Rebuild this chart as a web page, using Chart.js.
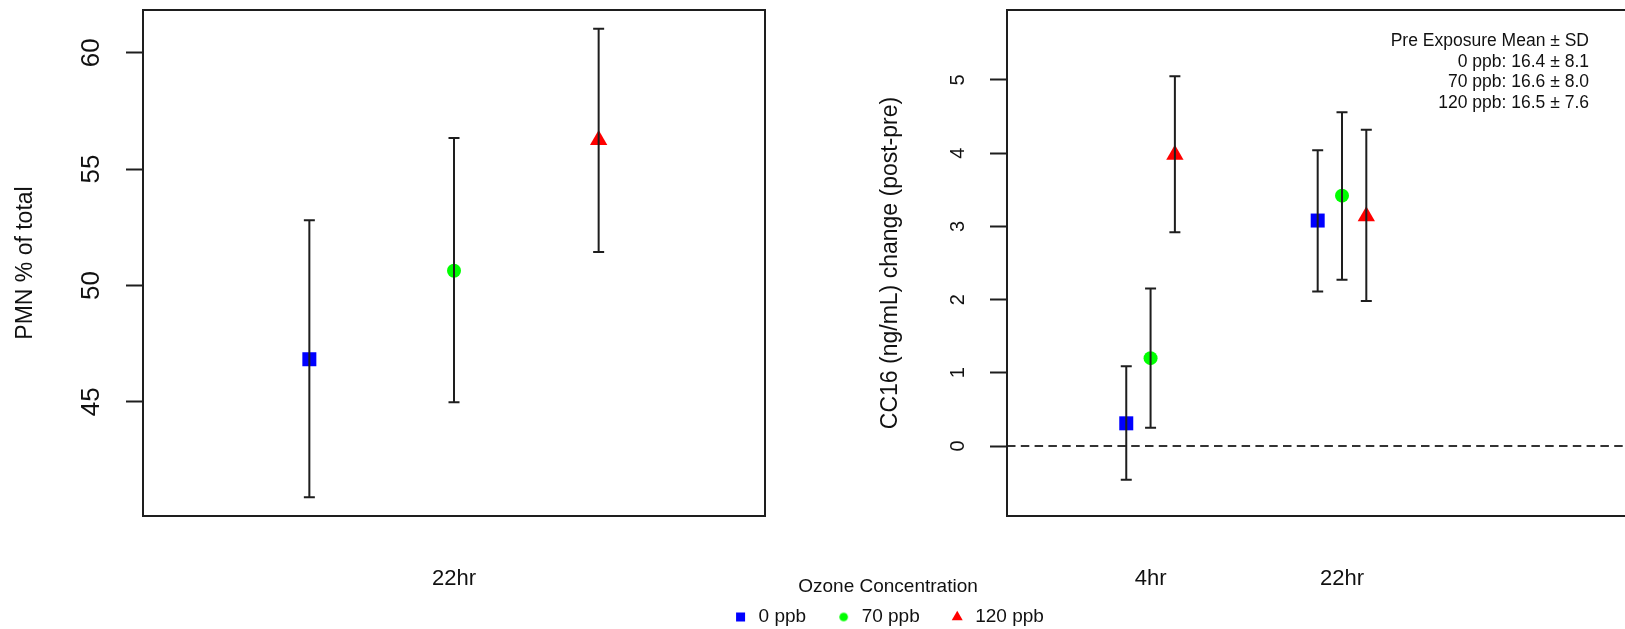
<!DOCTYPE html>
<html>
<head>
<meta charset="utf-8">
<title>PMN and CC16 by ozone concentration</title>
<script src="https://cdn.jsdelivr.net/npm/chart.js@4/dist/chart.umd.min.js"></script>
<style>
  html, body { margin: 0; padding: 0; background: #ffffff; overflow: hidden; width: 1625px; height: 629px; position: relative; }
  canvas { position: absolute; display: block; }
  #pmn  { left: 0; top: 0; }
  #cc16 { left: 780px; top: 0; }
  #key  { left: 688px; top: 400px; }
</style>
</head>
<body>
<canvas id="pmn" width="800" height="629"></canvas>
<canvas id="cc16" width="920" height="629"></canvas>
<canvas id="key" width="400" height="400"></canvas>
<script>
// ---- series ----
const concentrations = ['0 ppb', '70 ppb', '120 ppb'];
const seriesColors   = ['#0000ff', '#00ff00', '#ff0000'];
const seriesShapes   = ['rect', 'circle', 'triangle'];

// ---- PMN % of total (22hr), one value per concentration ----
const pmnTimes  = ['22hr'];
const pmnMean   = [46.83, 50.63, 56.25];
const pmnLow    = [40.90, 44.98, 51.44];
const pmnHigh   = [52.80, 56.34, 61.03];
const pmnTicks  = [45, 50, 55, 60];

// ---- CC16 change (post-pre), per concentration across 4hr / 22hr ----
const cc16Times    = ['4hr', '22hr'];
const cc16Mean0    = [0.31, 3.08];
const cc16Mean70   = [1.20, 3.42];
const cc16Mean120  = [3.98, 3.14];
const cc16Low0     = [-0.46, 2.11];
const cc16Low70    = [0.25, 2.27];
const cc16Low120   = [2.92, 1.98];
const cc16High0    = [1.09, 4.04];
const cc16High70   = [2.15, 4.56];
const cc16High120  = [5.05, 4.32];
const cc16Ticks    = [0, 1, 2, 3, 4, 5];
const cc16YLimits  = [-0.7, 5.7];

// ---- pre-exposure CC16 summary ----
const preMean = [16.4, 16.6, 16.5];
const preSD   = [8.1, 8.0, 7.6];

// ---- layout helpers ----
const FONT = "'Liberation Sans', Arial, Helvetica, sans-serif";
const INK = '#111111';
const LINE = '#1e1e1e';

// R-style axis extension: 4% beyond the limits on each side
function padRange(lo, hi) {
  const d = (hi - lo) * 0.04;
  return [lo - d, hi + d];
}

// chart frame around the plotting region
const framePlugin = {
  id: 'frame',
  afterDraw(chart) {
    const { ctx, chartArea: a } = chart;
    ctx.save();
    ctx.strokeStyle = LINE;
    ctx.lineWidth = 2;
    ctx.strokeRect(a.left, a.top, a.right - a.left, a.bottom - a.top);
    ctx.restore();
  }
};

// vertical error bars from each dataset's errLow / errHigh values
const errorBarPlugin = {
  id: 'errorBars',
  afterDatasetsDraw(chart) {
    const { ctx } = chart;
    const yScale = chart.scales.y;
    ctx.save();
    ctx.strokeStyle = LINE;
    ctx.lineWidth = 2;
    chart.data.datasets.forEach((ds, di) => {
      if (!ds.errLow) return;
      const meta = chart.getDatasetMeta(di);
      meta.data.forEach((pt, i) => {
        const x = pt.x;
        const y1 = yScale.getPixelForValue(ds.errLow[i]);
        const y2 = yScale.getPixelForValue(ds.errHigh[i]);
        const cap = 5.5;
        ctx.beginPath();
        ctx.moveTo(x, y1); ctx.lineTo(x, y2);
        ctx.moveTo(x - cap, y1); ctx.lineTo(x + cap, y1);
        ctx.moveTo(x - cap, y2); ctx.lineTo(x + cap, y2);
        ctx.stroke();
      });
    });
    ctx.restore();
  }
};

const markerRadius = { rect: 9.9, circle: 7, triangle: 10 };

function pointDataset(label, i, xs, ys, lows, highs) {
  return {
    type: 'scatter',
    label,
    data: xs.map((x, k) => ({ x, y: ys[k] })),
    errLow: lows,
    errHigh: highs,
    pointStyle: seriesShapes[i],
    pointRadius: markerRadius[seriesShapes[i]],
    pointHoverRadius: markerRadius[seriesShapes[i]],
    pointBackgroundColor: seriesColors[i],
    pointBorderColor: seriesColors[i],
    pointBorderWidth: 0,
    backgroundColor: seriesColors[i],
    borderColor: seriesColors[i]
  };
}

function categoryAxis(range, positions, labels, pad) {
  return {
    type: 'linear',
    min: range[0],
    max: range[1],
    grid: { display: false },
    border: { display: false },
    afterBuildTicks(scale) { scale.ticks = positions.map(v => ({ value: v })); },
    afterFit(scale) {
      scale.height = 113;
      scale.paddingLeft = 0; scale.paddingRight = 0;
    },
    ticks: {
      autoSkip: false,
      padding: pad,
      color: INK,
      font: { family: FONT, size: 22 },
      callback: (v, idx) => labels[idx]
    }
  };
}

function valueAxis(range, tickValues, tickFont, tickPad, width, title, titlePad) {
  return {
    type: 'linear',
    min: range[0],
    max: range[1],
    border: { display: false },
    grid: {
      display: true,
      drawOnChartArea: false,
      drawTicks: true,
      tickLength: 17,
      tickWidth: 2,
      tickColor: LINE
    },
    afterBuildTicks(scale) { scale.ticks = tickValues.map(v => ({ value: v })); },
    afterFit(scale) {
      scale.width = width;
      scale.paddingTop = 0; scale.paddingBottom = 0;
    },
    ticks: {
      minRotation: 90,
      maxRotation: 90,
      crossAlign: 'center',
      padding: tickPad,
      color: INK,
      font: { family: FONT, size: tickFont },
      callback: v => String(v)
    },
    title: {
      display: true,
      text: title,
      color: INK,
      font: { family: FONT, size: 23 },
      padding: { top: titlePad, bottom: 0 }
    }
  };
}

const baseOptions = {
  responsive: false,
  animation: false,
  events: [],
  plugins: { legend: { display: false }, tooltip: { enabled: false } }
};

// ---- left panel: PMN % of total ----
const pmnGroup = [1];
const pmnDodge = [-1, 0, 1];
const pmnX = [-1.15, 3.15];
const pmnY = padRange(Math.min(...pmnLow), Math.max(...pmnHigh));

new Chart(document.getElementById('pmn'), {
  type: 'scatter',
  data: {
    datasets: concentrations.map((c, i) =>
      pointDataset(c, i, pmnGroup.map(g => g + pmnDodge[i]), [pmnMean[i]], [pmnLow[i]], [pmnHigh[i]]))
  },
  options: {
    ...baseOptions,
    layout: { padding: { left: 0, top: 9, right: 35, bottom: 0 } },
    scales: {
      x: categoryAxis(pmnX, pmnGroup, pmnTimes, 42),
      y: valueAxis(pmnY, pmnTicks, 26, 19.5, 143, 'PMN % of total', 11.5)
    }
  },
  plugins: [framePlugin, errorBarPlugin]
});

// ---- right panel: CC16 change ----
const cc16Group = [1, 2];
const cc16Dodge = [-0.127, 0, 0.127];
const cc16X = [0.25, 3.75];
const cc16Y = padRange(cc16YLimits[0], cc16YLimits[1]);
const cc16Means = [cc16Mean0, cc16Mean70, cc16Mean120];
const cc16Lows  = [cc16Low0, cc16Low70, cc16Low120];
const cc16Highs = [cc16High0, cc16High70, cc16High120];

const preExposurePlugin = {
  id: 'preExposure',
  afterDraw(chart) {
    const { ctx } = chart;
    const lines = ['Pre Exposure Mean \u00b1 SD'].concat(
      concentrations.map((c, i) => c + ': ' + preMean[i].toFixed(1) + ' \u00b1 ' + preSD[i].toFixed(1)));
    ctx.save();
    ctx.fillStyle = INK;
    ctx.font = '17.5px ' + FONT;
    ctx.textAlign = 'right';
    ctx.textBaseline = 'alphabetic';
    lines.forEach((t, k) => ctx.fillText(t, 809, 46 + k * 20.5));
    ctx.restore();
  }
};

new Chart(document.getElementById('cc16'), {
  type: 'scatter',
  data: {
    datasets: [
      {
        type: 'line',
        label: 'no change',
        data: [{ x: cc16X[0], y: 0 }, { x: cc16X[1], y: 0 }],
        borderColor: '#333333',
        borderWidth: 2,
        borderDash: [8.5, 5.3],
        pointRadius: 0,
        fill: false,
        order: 2
      }
    ].concat(concentrations.map((c, i) =>
      Object.assign(pointDataset(c, i, cc16Group.map(g => g + cc16Dodge[i]), cc16Means[i], cc16Lows[i], cc16Highs[i]), { order: 1 })))
  },
  options: {
    ...baseOptions,
    layout: { padding: { left: 0, top: 9, right: 23, bottom: 0 } },
    scales: {
      x: categoryAxis(cc16X, cc16Group, cc16Times, 42),
      y: valueAxis(cc16Y, cc16Ticks, 20, 26.4, 227, 'CC16 (ng/mL) change (post-pre)', 96.5)
    }
  },
  plugins: [framePlugin, errorBarPlugin, preExposurePlugin]
});

// ---- shared key ----
function dot(diameter, color) {
  const c = document.createElement('canvas');
  const s = Math.ceil(diameter) + 2;
  c.width = s; c.height = s;
  const g = c.getContext('2d');
  g.fillStyle = color;
  g.beginPath();
  g.arc(s / 2, s / 2, diameter / 2, 0, Math.PI * 2);
  g.fill();
  return c;
}
const keyShapes = [seriesShapes[0], dot(8.6, seriesColors[1]), seriesShapes[2]];

new Chart(document.getElementById('key'), {
  type: 'scatter',
  data: {
    datasets: concentrations.map((c, i) => ({
      label: c, data: [], pointStyle: seriesShapes[i],
      backgroundColor: seriesColors[i], borderColor: seriesColors[i]
    }))
  },
  options: {
    ...baseOptions,
    layout: { padding: { top: 177.5, left: 0, right: 0, bottom: 0 } },
    scales: { x: { display: false }, y: { display: false } },
    plugins: {
      tooltip: { enabled: false },
      legend: {
        display: true,
        position: 'top',
        align: 'center',
        labels: {
          usePointStyle: true,
          boxWidth: 17,
          boxHeight: 9,
          padding: 29,
          color: INK,
          font: { family: FONT, size: 19 },
          generateLabels: () => concentrations.map((c, i) => ({
            text: c,
            fillStyle: seriesColors[i],
            strokeStyle: seriesColors[i],
            lineWidth: 0,
            pointStyle: keyShapes[i],
            hidden: false,
            datasetIndex: i,
            fontColor: INK
          }))
        },
        title: {
          display: true,
          text: 'Ozone Concentration',
          color: INK,
          font: { family: FONT, size: 19 },
          padding: { top: 0, bottom: -21.8 }
        }
      }
    }
  }
});
</script>
</body>
</html>
